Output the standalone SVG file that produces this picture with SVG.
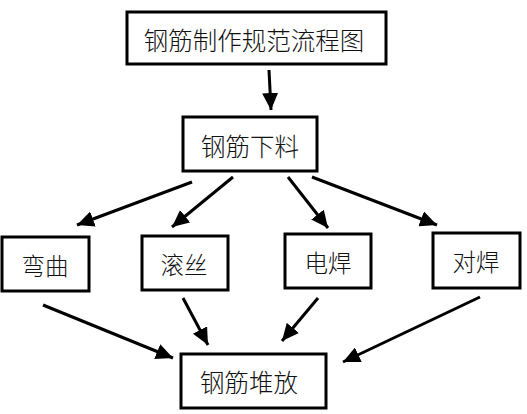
<svg xmlns="http://www.w3.org/2000/svg" width="527" height="414" viewBox="0 0 527 414">
<style>
.box{fill:#fff;stroke:#000;stroke-width:3}
.lbl{font-family:"Noto Sans CJK SC","Noto Sans CJK JP",sans-serif;font-weight:300;fill:#111;text-anchor:middle;dominant-baseline:central}
.big{font-size:24.5px}
.sm{font-size:23.5px}
.edge{stroke:#000;stroke-width:3;fill:none;marker-end:url(#ah)}
</style>
<defs>
<marker id="ah" markerUnits="userSpaceOnUse" markerWidth="18" markerHeight="16" refX="17" refY="8" orient="auto">
<path d="M0,0 L17,8 L0,16 z" fill="#000"/>
</marker>
</defs>
<rect width="527" height="414" fill="#fff"/>
<g id="connectors">
<line class="edge" x1="269" y1="70" x2="271" y2="110"/>
<line class="edge" x1="192" y1="182" x2="77" y2="225"/>
<line class="edge" x1="233" y1="177" x2="172" y2="227"/>
<line class="edge" x1="288" y1="177" x2="328" y2="228"/>
<line class="edge" x1="312" y1="177" x2="437" y2="225"/>
<line class="edge" x1="43" y1="305" x2="173" y2="358"/>
<line class="edge" x1="183" y1="298" x2="208" y2="345"/>
<line class="edge" x1="318" y1="298" x2="282" y2="341"/>
<line class="edge" x1="480" y1="297" x2="343" y2="362"/>
</g>
<g id="title">
<rect class="box" x="127" y="12" width="259" height="52"/>
<text class="lbl big" x="254" y="39">钢筋制作规范流程图</text>
</g>
<g id="xialiao">
<rect class="box" x="183" y="117" width="134" height="54"/>
<text class="lbl big" x="250" y="145">钢筋下料</text>
</g>
<g id="wanqu">
<rect class="box" x="2" y="237" width="87" height="54"/>
<text class="lbl sm" x="45" y="265">弯曲</text>
</g>
<g id="gunsi">
<rect class="box" x="142" y="236" width="86" height="54"/>
<text class="lbl sm" x="184" y="264">滚丝</text>
</g>
<g id="dianhan">
<rect class="box" x="285" y="234" width="86" height="54"/>
<text class="lbl sm" x="328" y="262">电焊</text>
</g>
<g id="duihan">
<rect class="box" x="433" y="233" width="87" height="55"/>
<text class="lbl sm" x="476" y="261">对焊</text>
</g>
<g id="duifang">
<rect class="box" x="181" y="354" width="145" height="54"/>
<text class="lbl big" x="249" y="381">钢筋堆放</text>
</g>
</svg>
